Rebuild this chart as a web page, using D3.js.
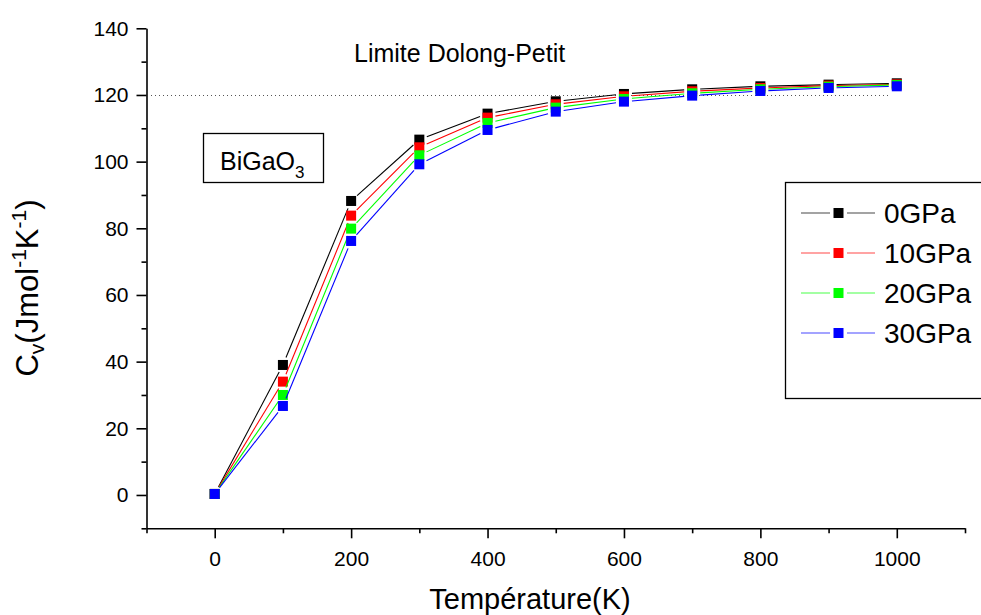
<!DOCTYPE html>
<html>
<head>
<meta charset="utf-8">
<script src="https://cdn.jsdelivr.net/npm/d3@7"></script>
<style>
  html, body { margin: 0; padding: 0; background: #fff; }
  svg { display: block; font-family: "Liberation Sans", Arial, sans-serif; }
</style>
</head>
<body>
<svg id="chart" width="981" height="615"></svg>
<script>
// Heat capacity Cv of BiGaO3 versus temperature at four pressures
const temperatures = [0, 100, 200, 300, 400, 500, 600, 700, 800, 900, 1000];
const seriesNames = ["0GPa", "10GPa", "20GPa", "30GPa"];
const seriesColors = ["#000000", "#ff0000", "#00ff00", "#0000ff"];
const cv0GPa  = [0.3, 39.0, 88.2, 106.6, 114.4, 118.1, 120.3, 121.7, 122.6, 123.1, 123.5];
const cv10GPa = [0.3, 34.0, 83.8, 104.3, 113.2, 117.2, 119.6, 121.1, 122.1, 122.8, 123.2];
const cv20GPa = [0.3, 30.0, 79.9, 101.9, 111.6, 116.2, 118.8, 120.5, 121.7, 122.5, 123.0];
const cv30GPa = [0.3, 26.7, 76.2, 99.2, 109.5, 115.0, 118.0, 119.8, 121.2, 122.1, 122.6];
const seriesValues = [cv0GPa, cv10GPa, cv20GPa, cv30GPa];
const xMajorTicks = [0, 200, 400, 600, 800, 1000];
const xMinorTicks = [-100, 100, 300, 500, 700, 900, 1100];
const yMajorTicks = [0, 20, 40, 60, 80, 100, 120, 140];
const yMinorTicks = [-10, 10, 30, 50, 70, 90, 110, 130];
const dulongPetitLimit = 120;

const svg = d3.select("#chart");
const x = d3.scaleLinear().domain([-100, 1100]).range([146.5, 965]);
const y = d3.scaleLinear().domain([-10, 140]).range([528.3, 28.3]);
const xAxisY = y(-10);
const yAxisX = x(-100);
const fontFamily = '"Liberation Sans", Arial, sans-serif';

svg.append("rect").attr("width", 981).attr("height", 615).attr("fill", "#fff");

// Dulong-Petit reference line
svg.append("line")
  .attr("x1", 151).attr("x2", x(990))
  .attr("y1", Math.round(y(dulongPetitLimit)) + 0.5).attr("y2", Math.round(y(dulongPetitLimit)) + 0.5)
  .attr("stroke", "#555").attr("stroke-width", 1).attr("stroke-dasharray", "1,3");

svg.append("text")
  .attr("x", 354).attr("y", 62)
  .attr("font-size", 25).attr("fill", "#000")
  .text("Limite Dolong-Petit");

// Axes: major ticks with labels, minor ticks without
const xAxisG = svg.append("g").attr("transform", `translate(0,${xAxisY})`);
xAxisG.call(d3.axisBottom(x).tickValues(xMajorTicks).tickSize(10).tickSizeOuter(0).tickPadding(13).tickFormat(d3.format("d")));
xAxisG.append("g").call(d3.axisBottom(x).tickValues(xMinorTicks).tickSize(5).tickSizeOuter(0).tickFormat(""))
  .select(".domain").remove();

const yAxisG = svg.append("g").attr("transform", `translate(${yAxisX},0)`);
yAxisG.call(d3.axisLeft(y).tickValues(yMajorTicks).tickSize(10).tickSizeOuter(0).tickPadding(8).tickFormat(d3.format("d")));
yAxisG.append("g").call(d3.axisLeft(y).tickValues(yMinorTicks).tickSize(5).tickSizeOuter(0).tickFormat(""))
  .select(".domain").remove();

svg.selectAll(".domain").attr("stroke", "#000").attr("stroke-width", 1.6);
svg.selectAll(".tick line").attr("stroke", "#000").attr("stroke-width", 1.6);
svg.selectAll(".tick text").attr("font-family", fontFamily).attr("font-size", 21).attr("fill", "#000");

// Axis titles
svg.append("text")
  .attr("x", 530).attr("y", 609)
  .attr("text-anchor", "middle").attr("font-size", 29).attr("fill", "#000")
  .text("Température(K)");

const yTitle = svg.append("text")
  .attr("transform", "translate(38,288) rotate(-90)")
  .attr("text-anchor", "middle").attr("font-size", 31).attr("fill", "#000");
yTitle.append("tspan").text("C");
yTitle.append("tspan").attr("font-size", 21).attr("dy", 6).text("v");
yTitle.append("tspan").attr("dy", -6).text("(Jmol");
yTitle.append("tspan").attr("font-size", 21).attr("dy", -12).text("-1");
yTitle.append("tspan").attr("dy", 12).text("K");
yTitle.append("tspan").attr("font-size", 21).attr("dy", -12).text("-1");
yTitle.append("tspan").attr("dy", 12).text(")");

// Compound label box
svg.append("rect")
  .attr("x", 203.5).attr("y", 133.5).attr("width", 120).attr("height", 49)
  .attr("fill", "#fff").attr("stroke", "#000").attr("stroke-width", 1.3);
const compound = svg.append("text")
  .attr("x", 220).attr("y", 170).attr("font-size", 25).attr("fill", "#000");
compound.append("tspan").text("BiGaO");
compound.append("tspan").attr("font-size", 17).attr("dy", 8).text("3");

// Series: segments stop short of each marker, markers drawn on top
const gap = 8;
const markerSize = 10;
seriesValues.forEach((vals, i) => {
  const pts = temperatures.map((t, j) => [x(t), y(vals[j])]);
  const segs = d3.pairs(pts).map(([a, b]) => {
    const dx = b[0] - a[0], dy = b[1] - a[1];
    const len = Math.hypot(dx, dy);
    const ux = dx / len, uy = dy / len;
    return [a[0] + ux * gap, a[1] + uy * gap, b[0] - ux * gap, b[1] - uy * gap];
  });
  const g = svg.append("g");
  g.selectAll("line").data(segs).join("line")
    .attr("x1", d => d[0]).attr("y1", d => d[1])
    .attr("x2", d => d[2]).attr("y2", d => d[3])
    .attr("stroke", seriesColors[i]).attr("stroke-width", 1.1);
  g.selectAll("rect").data(pts).join("rect")
    .attr("x", d => d[0] - markerSize / 2).attr("y", d => d[1] - markerSize / 2)
    .attr("width", markerSize).attr("height", markerSize)
    .attr("fill", seriesColors[i]);
});

// Legend
svg.append("rect")
  .attr("x", 785.5).attr("y", 182.5).attr("width", 230).attr("height", 216)
  .attr("fill", "#fff").attr("stroke", "#000").attr("stroke-width", 1.3);
seriesNames.forEach((name, i) => {
  const cy = 213 + i * 40;
  const g = svg.append("g");
  g.append("line").attr("x1", 801).attr("x2", 830).attr("y1", cy).attr("y2", cy)
    .attr("stroke", seriesColors[i]).attr("stroke-opacity", 0.6).attr("stroke-width", 1.2);
  g.append("line").attr("x1", 847).attr("x2", 875).attr("y1", cy).attr("y2", cy)
    .attr("stroke", seriesColors[i]).attr("stroke-opacity", 0.6).attr("stroke-width", 1.2);
  g.append("rect").attr("x", 838.5 - markerSize / 2).attr("y", cy - markerSize / 2)
    .attr("width", markerSize).attr("height", markerSize).attr("fill", seriesColors[i]);
  g.append("text").attr("x", 884).attr("y", cy + 10)
    .attr("font-size", 28).attr("fill", "#000").text(name);
});
</script>
</body>
</html>
